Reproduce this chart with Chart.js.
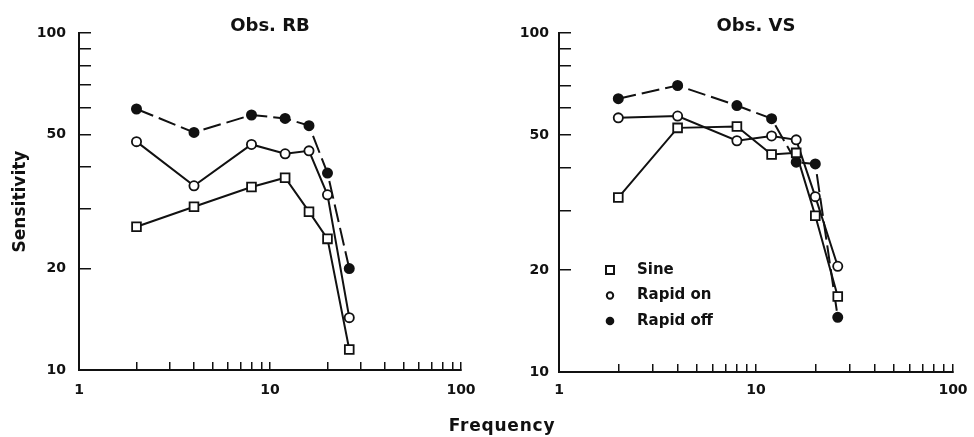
<!DOCTYPE html>
<html><head><meta charset="utf-8">
<script src="https://cdn.jsdelivr.net/npm/chart.js@4"></script>
<style>
html,body{margin:0;padding:0;background:#fff;}
#wrap{position:relative;width:974px;height:437px;overflow:hidden;background:#fff;}
canvas{position:absolute;top:0;}
#c1{left:0;}
#c2{left:487px;}
#xt{position:absolute;left:402px;width:200px;top:415px;line-height:20px;text-align:center;font:bold 17px 'DejaVu Sans';color:#111;letter-spacing:0.8px;}
</style></head>
<body>
<div id="wrap">
<canvas id="c1" width="487" height="437"></canvas>
<canvas id="c2" width="487" height="437"></canvas>
<div id="xt">Frequency</div>
</div>
<script>
// ---- data ----
const frequencies = [2, 4, 8, 12, 16, 20, 26];
const seriesNames = ['Sine', 'Rapid on', 'Rapid off'];
const panelTitles = ['Obs. RB', 'Obs. VS'];
const rbSine     = [26.6, 30.5, 34.9, 37.2, 29.5, 24.5, 11.5];
const rbRapidOn  = [47.6, 35.2, 46.7, 43.8, 44.7, 33.1, 14.3];
const rbRapidOff = [59.5, 50.7, 57.1, 55.8, 53.1, 38.4, 20.0];
const vsSine     = [32.7, 52.5, 53.0, 43.8, 44.3, 28.9, 16.7];
const vsRapidOn  = [56.2, 56.9, 48.1, 49.7, 48.4, 32.9, 20.5];
const vsRapidOff = [64.0, 70.0, 61.1, 55.9, 41.6, 41.1, 14.5];
const xTickMarks = [1, 2, 3, 4, 5, 6, 7, 8, 9, 10, 20, 30, 40, 50, 60, 70, 80, 90, 100];
const yTickMarks = [10, 20, 30, 40, 50, 60, 70, 80, 90, 100];
const xTickLabels = [1, 10, 100];
const yTickLabels = [10, 20, 50, 100];

const INK = '#111';
const FONT = 'DejaVu Sans';

function pts(vals) { return frequencies.map((f, i) => ({x: f, y: vals[i]})); }

function makeDatasets(sine, on, off) {
  const common = {borderColor: INK, borderWidth: 2, pointBorderColor: INK, pointBorderWidth: 1.8, tension: 0, fill: false, clip: false};
  return [
    Object.assign({label: seriesNames[0], data: pts(sine), pointStyle: 'rect', pointRadius: 6.2, pointBackgroundColor: '#fff'}, common),
    Object.assign({label: seriesNames[1], data: pts(on), pointStyle: 'circle', pointRadius: 4.6, pointBackgroundColor: '#fff'}, common),
    Object.assign({label: seriesNames[2], data: pts(off), pointStyle: 'circle', pointRadius: 4.6, pointBackgroundColor: INK, borderDash: [18, 6]}, common)
  ];
}

function isIn(list, v) { return list.some(t => Math.abs(t - v) < 1e-6 * t); }

const insideLegend = {
  id: 'insideLegend',
  afterDatasetsDraw(chart) {
    const ctx = chart.ctx, a = chart.chartArea;
    const mx = a.left + 51, tx = a.left + 78;
    ctx.save();
    ctx.font = 'bold 15px ' + FONT;
    ctx.textBaseline = 'middle';
    ctx.textAlign = 'left';
    chart.data.datasets.forEach((ds, i) => {
      const y = a.top + 237 + i * 25.5;
      ctx.lineWidth = 2;
      ctx.strokeStyle = INK;
      ctx.fillStyle = INK;
      if (ds.pointStyle === 'rect') {
        ctx.strokeRect(mx - 4, y - 4, 8, 8);
      } else if (ds.pointBackgroundColor === '#fff') {
        ctx.beginPath(); ctx.arc(mx, y, 3.2, 0, Math.PI * 2); ctx.stroke();
      } else {
        ctx.beginPath(); ctx.arc(mx, y, 4.3, 0, Math.PI * 2); ctx.fill();
      }
      ctx.fillStyle = INK;
      ctx.fillText(ds.label, tx, y);
    });
    ctx.restore();
  }
};

function makeChart(id, title, datasets, o) {
  return new Chart(document.getElementById(id), {
    type: 'line',
    data: {datasets: datasets},
    options: {
      responsive: false, animation: false, devicePixelRatio: 1,
      layout: {padding: {left: 0, right: o.padRight, top: 0, bottom: 0}},
      plugins: {
        legend: {display: false},
        tooltip: {enabled: false},
        title: {display: true, text: title, fullSize: false, color: INK,
          font: {family: FONT, size: 18, weight: 'bold', lineHeight: 1},
          padding: {top: 17, bottom: -2}}
      },
      scales: {
        x: {
          type: 'logarithmic', min: 1, max: 100, position: 'bottom',
          afterFit: s => { s.height = o.xh; s.paddingLeft = 0; s.paddingRight = 0; },
          afterBuildTicks: s => { s.ticks = xTickMarks.map(v => ({value: v})); },
          border: {display: true, color: INK, width: 2},
          grid: {display: true, drawOnChartArea: false, drawTicks: true, tickLength: -8, color: INK, lineWidth: 1.5},
          ticks: {autoSkip: false, maxRotation: 0, padding: o.xpad, color: INK,
            font: {family: FONT, size: 14, weight: 'bold'},
            callback: v => isIn(xTickLabels, v) ? String(Math.round(v)) : ''}
        },
        y: {
          type: 'logarithmic', min: 10, max: 100, position: 'left',
          afterFit: s => { s.width = o.yw; s.paddingTop = 0; s.paddingBottom = 0; },
          afterBuildTicks: s => { s.ticks = yTickMarks.map(v => ({value: v})); },
          border: {display: true, color: INK, width: 2},
          grid: {display: true, drawOnChartArea: false, drawTicks: true, tickLength: -12, color: INK, lineWidth: 1.5},
          ticks: {autoSkip: false, padding: o.ypad, color: INK,
            font: {family: FONT, size: 14, weight: 'bold'},
            callback: v => isIn(yTickLabels, v) ? String(Math.round(v)) : ''},
          title: {display: o.ytitle, text: 'Sensitivity', color: INK,
            font: {family: FONT, size: 17, weight: 'bold'}, padding: {top: 10, bottom: 0}}
        }
      }
    },
    plugins: o.legend ? [insideLegend] : []
  });
}

makeChart('c1', panelTitles[0], makeDatasets(rbSine, rbRapidOn, rbRapidOff),
  {padRight: 26, xh: 67, yw: 79, xpad: 20, ypad: 25, ytitle: true, legend: false});
makeChart('c2', panelTitles[1], makeDatasets(vsSine, vsRapidOn, vsRapidOff),
  {padRight: 21, xh: 65, yw: 72, xpad: 18, ypad: 22, ytitle: false, legend: true});
</script>
</body></html>
